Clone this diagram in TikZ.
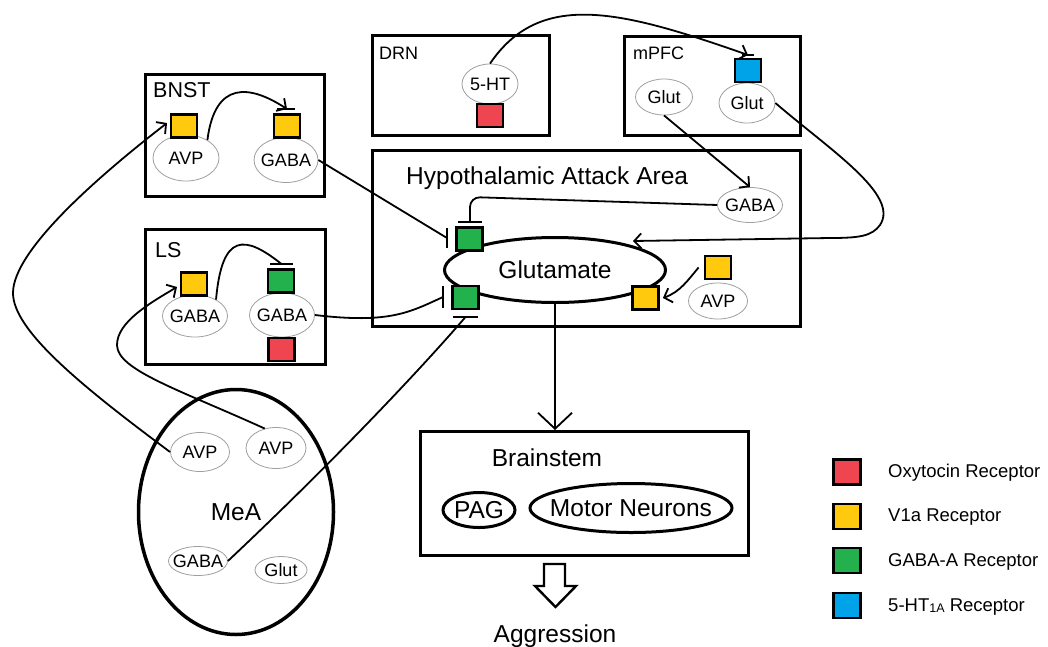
\documentclass[tikz,border=0pt]{standalone}
\usepackage{fontspec}
\setmainfont{Liberation Sans}
\usetikzlibrary{shapes.geometric,arrows.meta}
\definecolor{oxt}{RGB}{239,69,80}
\definecolor{vone}{RGB}{255,201,14}
\definecolor{gabaa}{RGB}{34,177,76}
\definecolor{htr}{RGB}{0,162,232}
\begin{document}
\begin{tikzpicture}[x=1pt,y=-1pt,
  region/.style={draw, line width=3.2pt, inner sep=0},
  lab/.style={anchor=base west, inner sep=0},
  cell/.style={ellipse, draw=gray!75, fill=white, line width=0.8pt, inner sep=0,
    label={[font=\fontsize{18}{20}\selectfont, inner sep=0]center:#1}},
  bigcell/.style={ellipse, draw, line width=3pt, inner sep=0,
    label={[font=\fontsize{24.5}{28}\selectfont, inner sep=0]center:#1}},
  rec/.style={draw, line width=2.8pt, minimum width=26pt, minimum height=23pt, inner sep=0},
  legrec/.style={rec, minimum width=27.5pt, minimum height=25pt},
  conn/.style={line width=1.8pt},
  act/.style={conn, -{Straight Barb[length=7pt,width=15pt]}},
  bar/.style={line width=2.4pt},
  bigf/.style={font=\fontsize{24.5}{28}\selectfont},
  midf/.style={font=\fontsize{21.5}{24}\selectfont},
  smallf/.style={font=\fontsize{18}{20}\selectfont},
  legf/.style={font=\fontsize{18.5}{22}\selectfont}
]
\useasboundingbox (0,0) rectangle (1048,646);

% regions
\node[region, minimum width=178.8pt, minimum height=121.8pt] (bnst) at (235,135.5) {};
\node[region, minimum width=179.8pt, minimum height=134.8pt] (ls) at (235.5,297) {};
\node[region, minimum width=176.8pt, minimum height=99.8pt] (drn) at (461,85.5) {};
\node[region, minimum width=175.8pt, minimum height=98.8pt] (mpfc) at (712.5,86) {};
\node[region, minimum width=427.8pt, minimum height=175.8pt] (haa) at (586.5,238.5) {};
\node[region, minimum width=327.8pt, minimum height=123.8pt] (bs) at (584.5,493.5) {};

% region labels
\node[lab, midf] (bnstl) at (153,97) {BNST};
\node[lab, midf] (lsl) at (155,257) {LS};
\node[lab, smallf] (drnl) at (379,59) {DRN};
\node[lab, smallf] (mpfcl) at (633,59) {mPFC};
\node[lab, bigf] (haal) at (406,184) {Hypothalamic Attack Area};
\node[anchor=base, inner sep=0, bigf] (bsl) at (547,466) {Brainstem};
\node[anchor=base, inner sep=0, bigf] (aggr) at (555,642) {Aggression};

% big ellipses
\node[bigcell=MeA, line width=3.5pt, minimum width=195pt, minimum height=245pt] (mea) at (236,512) {};
\node[bigcell=Glutamate, fill=white, minimum width=221pt, minimum height=65pt] (glu) at (555,270) {};
\node[bigcell=PAG, minimum width=72pt, minimum height=35pt] (pag) at (479,510) {};
\node[bigcell=Motor Neurons, minimum width=202pt, minimum height=49pt] (motor) at (631,508) {};

% cells
\node[cell=AVP, minimum width=66pt, minimum height=46pt] (bavp) at (186,158) {};
\node[cell=GABA, minimum width=64pt, minimum height=45pt] (bgaba) at (286,160) {};
\node[cell=GABA, minimum width=65pt, minimum height=42pt] (lg1) at (195,316) {};
\node[cell=GABA, minimum width=65pt, minimum height=44pt] (lg2) at (282,315) {};
\node[cell=5-HT, minimum width=56pt, minimum height=40pt] (dht) at (490,84) {};
\node[cell=Glut, minimum width=57pt, minimum height=36pt] (mg1) at (664,97) {};
\node[cell=Glut, minimum width=56pt, minimum height=40pt] (mg2) at (747,103) {};
\node[cell=GABA, minimum width=65pt, minimum height=35pt] (hgaba) at (750,205) {};
\node[cell=AVP, minimum width=59pt, minimum height=36pt] (havp) at (718,301) {};
\node[cell=AVP, minimum width=59pt, minimum height=39pt] (mavp1) at (200,452) {};
\node[cell=AVP, minimum width=60pt, minimum height=41pt] (mavp2) at (276,448) {};
\node[cell=GABA, minimum width=59pt, minimum height=29pt] (mgaba) at (198,561) {};
\node[cell=Glut, minimum width=52pt, minimum height=27pt] (mglut) at (281,570) {};

% connector end points
\coordinate (b1) at (447,238);
\coordinate (b1t) at (470,222);
\coordinate (b2) at (443,297);
\coordinate (b2b) at (465.5,317);
\coordinate (b3) at (281.5,264);
\coordinate (btip) at (287,109);
\coordinate (mtip) at (748,55);
\coordinate (gtop) at (633,241);

% connectors
\draw[conn] (bgaba.east) -- (b1);
\draw[conn, rounded corners=10pt] (hgaba.west) -- (470,197) -- (b1t);
\draw[act] (mg1.south) -- (hgaba.north);
\draw[act] (mg2.east) .. controls (830,150) and (900,195) .. (880,225) .. controls (872,236) and (860,238) .. (830,238) -- (gtop);
\draw[act] (dht.north) .. controls (540,-10) and (620,10) .. (mtip);
\draw[act] (bavp.40) .. controls (215,80) and (250,85) .. (btip);
\draw[conn] (lg1.38) .. controls (222,232) and (245,235) .. (b3);
\draw[conn] (lg2.east) .. controls (390,324) and (410,312) .. (b2);
\draw[conn] (mgaba.east) .. controls (330,465) and (420,370) .. (b2b);
\draw[act] (mavp1.west) .. controls (80,385) and (13,330) .. (13,293) .. controls (13,250) and (100,175) .. (167,123);
\draw[act] (mavp2.120) .. controls (180,390) and (117,370) .. (117,345) .. controls (117,322) and (150,303) .. (177,287);
\draw[conn, -{Straight Barb[length=16pt,width=34pt]}] (glu.south) -- (glu.south |- bs.north);

% receptors
\node[rec, fill=vone] (bsq1) at (184,126) {};
\node[rec, fill=vone] (bsq2) at (287,126) {};
\node[rec, fill=vone] (lsq1) at (194,284) {};
\node[rec, fill=gabaa] (lsq2) at (281,281) {};
\node[rec, fill=oxt] (lsq3) at (281.5,349.5) {};
\node[rec, fill=oxt] (dsq) at (490,115.5) {};
\node[rec, fill=htr] (msq) at (748,70.5) {};
\node[rec, fill=gabaa] (hsq1) at (469.5,239) {};
\node[rec, fill=gabaa] (hsq2) at (465.5,297.5) {};
\node[rec, fill=vone] (hsq3) at (645.5,298) {};
\node[rec, fill=vone] (hsq4) at (718,267.5) {};

\draw[act] ([xshift=-5pt]hsq4.west) .. controls (688,280) and (680,292) .. ([xshift=3pt]hsq3.east);

% inhibitory bars and arrow stops
\draw[bar] (447,228) -- (447,248);
\draw[bar] (458,222) -- (482,222);
\draw[bar] (443,286) -- (443,308);
\draw[bar] (453,317) -- (478,317);
\draw[bar] (270,264) -- (293,264);
\draw[line width=1.2pt] (277,109) -- (295,109);
\draw[line width=1.2pt] (742,55) -- (754,55);

% output arrow
\draw[line width=2.4pt, fill=white, line join=miter] (544,564) -- (565,564) -- (565,586) -- (576,586) -- (555.5,607) -- (535,586) -- (544,586) -- cycle;

% legend
\node[legrec, fill=oxt] (k1) at (847,472) {};
\node[legrec, fill=vone] (k2) at (847,516.5) {};
\node[legrec, fill=gabaa] (k3) at (847,560.5) {};
\node[legrec, fill=htr] (k4) at (847,605.5) {};
\node[lab, legf] (t1) at (888,477) {Oxytocin Receptor};
\node[lab, legf] (t2) at (888,521) {V1a Receptor};
\node[lab, legf] (t3) at (888,566) {GABA-A Receptor};
\node[lab, legf] (t4) at (888,611) {5-HT\raisebox{-1pt}{\fontsize{12.5}{14}\selectfont 1A} Receptor};
\end{tikzpicture}
\end{document}
